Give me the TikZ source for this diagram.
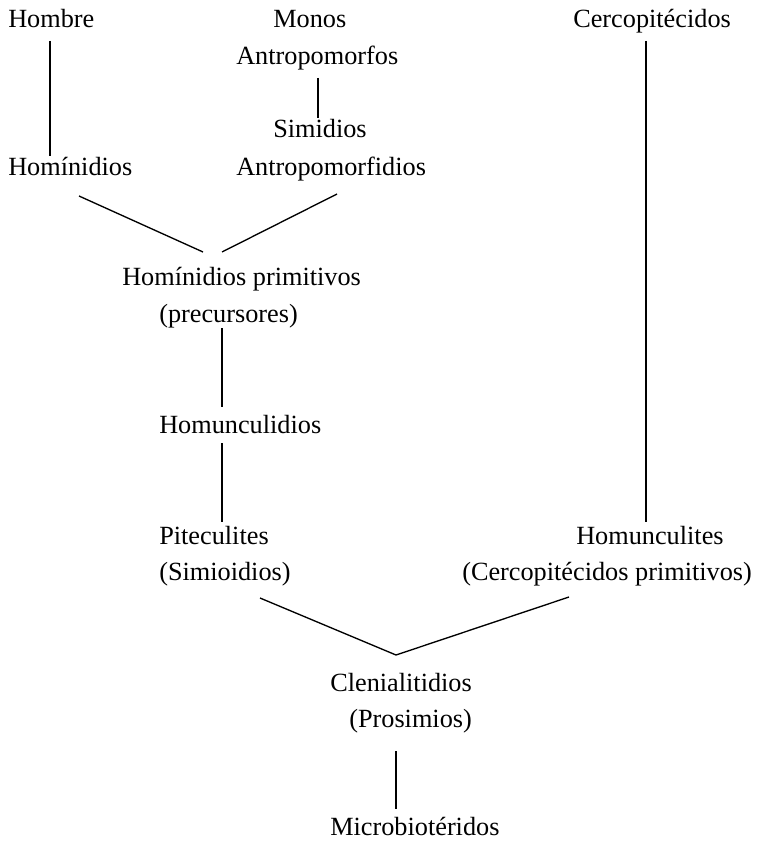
\documentclass[tikz,border=0pt]{standalone}
\usepackage{fontspec}
\setmainfont{Liberation Serif}
\begin{document}
\begin{tikzpicture}[x=0.75pt,y=-0.75pt,
  lbl/.style={anchor=base west,inner sep=0pt,font=\fontsize{19.7pt}{27pt}\selectfont},
  link/.style={line width=1pt}]
\useasboundingbox (0,0) rectangle (758,841);
% labels
\node[lbl] (hombre) at (8,28) {Hombre};
\node[lbl] (monos) at (273,28) {Monos};
\node[lbl] (cerco) at (573,28) {Cercopitécidos};
\node[lbl] (antropo) at (236,65) {Antropomorfos};
\node[lbl] (simidios) at (273,138) {Simidios};
\node[lbl] (hominidios) at (8,176) {Homínidios};
\node[lbl] (antropofid) at (236,176) {Antropomorfidios};
\node[lbl] (homprim) at (122,286) {Homínidios primitivos};
\node[lbl] (precur) at (159,322) {(precursores)};
\node[lbl] (homuncd) at (159,433) {Homunculidios};
\node[lbl] (pitec) at (159,544) {Piteculites};
\node[lbl] (simioid) at (159,580) {(Simioidios)};
\node[lbl] (homunct) at (576,544) {Homunculites};
\node[lbl] (cercoprim) at (462,580) {(Cercopitécidos primitivos)};
\node[lbl] (clenia) at (330,691) {Clenialitidios};
\node[lbl] (prosim) at (349,727) {(Prosimios)};
\node[lbl] (micro) at (330,835) {Microbiotéridos};
% connector end points
\coordinate (hombreB) at (50,41);
\coordinate (hominT) at (50,156);
\coordinate (antropoB) at (318,78);
\coordinate (simidT) at (318,118);
\coordinate (cercoB) at (646,41);
\coordinate (homunctT) at (646,522);
\coordinate (hominB) at (79,196);
\coordinate (antropofidB) at (337,194);
\coordinate (homprimTL) at (203,252);
\coordinate (homprimTR) at (222,252);
\coordinate (precurB) at (222,328);
\coordinate (homuncdT) at (222,407);
\coordinate (homuncdB) at (222,443);
\coordinate (pitecT) at (222,522);
\coordinate (simioidB) at (260,598);
\coordinate (cleniaT) at (396,655);
\coordinate (cercoprimB) at (569,597);
\coordinate (prosimB) at (396,751);
\coordinate (microT) at (396,809);
% connectors
\draw[link] (hombreB) -- (hominT);
\draw[link] (antropoB) -- (simidT);
\draw[link] (cercoB) -- (homunctT);
\draw[link] (hominB) -- (homprimTL);
\draw[link] (antropofidB) -- (homprimTR);
\draw[link] (precurB) -- (homuncdT);
\draw[link] (homuncdB) -- (pitecT);
\draw[link] (simioidB) -- (cleniaT) -- (cercoprimB);
\draw[link] (prosimB) -- (microT);
\end{tikzpicture}
\end{document}
